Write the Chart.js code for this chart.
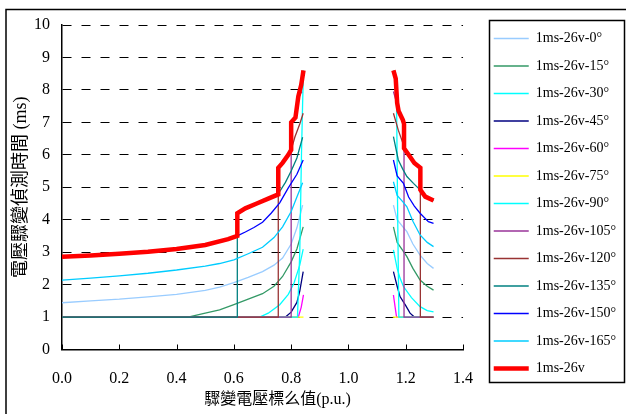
<!DOCTYPE html>
<html><head><meta charset="utf-8">
<script src="https://cdn.jsdelivr.net/npm/chart.js@4/dist/chart.umd.min.js"></script>
<style>html,body{margin:0;padding:0;background:#fff;}canvas{display:block;}</style>
</head><body>
<canvas id="c" width="626" height="414"></canvas>
<script>
// ---- data ----
const seriesLabels = ['1ms-26v-0°','1ms-26v-15°','1ms-26v-30°','1ms-26v-45°','1ms-26v-60°','1ms-26v-75°',
  '1ms-26v-90°','1ms-26v-105°','1ms-26v-120°','1ms-26v-135°','1ms-26v-150°','1ms-26v-165°','1ms-26v'];
const xTickLabels = ['0.0','0.2','0.4','0.6','0.8','1.0','1.2','1.4'];
const yTickLabels = ['0','1','2','3','4','5','6','7','8','9','10'];

// [voltage p.u., time ms] - left branch (sag) and right branch (swell)
const a0L = [[0,1.44],[0.1,1.5],[0.2,1.55],[0.3,1.62],[0.4,1.7],[0.5,1.82],[0.55,1.92],[0.6,2.06],[0.65,2.22],[0.7,2.4],[0.74,2.6],[0.77,2.82],[0.8,3.25],[0.82,3.75],[0.84,4.45]];
const a0R = [[1.157,4.45],[1.17,4.0],[1.19,3.78],[1.204,3.63],[1.225,3.25],[1.25,2.91],[1.275,2.65],[1.297,2.5]];
const a15L = [[0,1],[0.44,1],[0.5,1.12],[0.55,1.22],[0.6,1.38],[0.65,1.55],[0.7,1.72],[0.74,1.95],[0.77,2.25],[0.8,2.7],[0.82,3.1],[0.842,3.78]];
const a15R = [[1.157,3.78],[1.17,3.3],[1.19,3.05],[1.204,2.86],[1.225,2.5],[1.25,2.14],[1.275,1.95],[1.297,1.83]];
const a30L = [[0,1],[0.69,1],[0.72,1.12],[0.76,1.38],[0.79,1.7],[0.81,2.05],[0.83,2.6],[0.842,3.09]];
const a30R = [[1.157,3.07],[1.17,2.5],[1.18,2.2],[1.192,1.94],[1.22,1.6],[1.25,1.32],[1.275,1.2],[1.297,1.16]];
const a45L = [[0,1],[0.78,1],[0.8,1.15],[0.82,1.45],[0.83,1.8],[0.842,2.4]];
const a45R = [[1.157,2.4],[1.17,1.95],[1.18,1.63],[1.2,1.35],[1.215,1.12],[1.23,1],[1.297,1]];
const a60L = [[0,1],[0.825,1],[0.835,1.3],[0.843,1.68]];
const a60R = [[1.157,1.68],[1.163,1.3],[1.168,1],[1.297,1]];
const a75L = [[0,1],[0.843,1]];
const a75R = [[1.155,1],[1.297,1]];
const a90L = [[0,1],[0.822,1],[0.83,3.0],[0.836,6.0],[0.84,7.6],[0.843,8.6]];
const a90R = [[1.157,8.6],[1.165,8.35],[1.168,7.5],[1.172,4.0],[1.176,1],[1.297,1]];
const a105L = [[0,1],[0.8,1],[0.8,7.0],[0.815,7.15],[0.825,7.8],[0.838,7.95]];
const a105R = [[1.157,7.95],[1.17,7.55],[1.18,7.25],[1.194,6.95],[1.194,1],[1.297,1]];
const a120L = [[0,1],[0.755,1],[0.755,5.6],[0.77,5.75],[0.79,6.0],[0.8,6.15],[0.813,6.55],[0.83,6.95],[0.842,7.28]];
const a120R = [[1.157,7.28],[1.174,6.76],[1.186,6.46],[1.196,6.2],[1.215,5.94],[1.23,5.75],[1.251,5.6],[1.251,1],[1.297,1]];
const a135L = [[0,1],[0.612,1],[0.612,4.2],[0.64,4.35],[0.68,4.5],[0.72,4.65],[0.755,4.8],[0.78,5.15],[0.8,5.5],[0.82,5.9],[0.84,6.54]];
const a135R = [[1.157,6.56],[1.174,5.84],[1.19,5.55],[1.204,5.33],[1.227,5.12],[1.25,4.92],[1.268,4.71],[1.297,4.59]];
const a150L = [[0,2.86],[0.1,2.9],[0.2,2.95],[0.3,3.01],[0.4,3.1],[0.5,3.22],[0.58,3.4],[0.612,3.5],[0.64,3.62],[0.67,3.76],[0.7,3.92],[0.73,4.2],[0.76,4.52],[0.79,4.98],[0.82,5.4],[0.842,5.84]];
const a150R = [[1.157,5.84],[1.17,5.35],[1.192,5.12],[1.21,4.7],[1.23,4.42],[1.25,4.2],[1.279,3.94],[1.297,3.89]];
const a165L = [[0,2.14],[0.1,2.2],[0.2,2.27],[0.3,2.35],[0.4,2.45],[0.5,2.57],[0.55,2.65],[0.6,2.76],[0.65,2.95],[0.7,3.15],[0.74,3.45],[0.77,3.78],[0.8,4.25],[0.82,4.7],[0.84,5.14]];
const a165R = [[1.157,5.17],[1.17,4.75],[1.19,4.55],[1.204,4.4],[1.225,3.95],[1.25,3.53],[1.275,3.3],[1.297,3.17]];
const maxL = [[0,2.86],[0.1,2.9],[0.2,2.95],[0.3,3.01],[0.4,3.1],[0.5,3.22],[0.58,3.4],[0.612,3.5],[0.612,4.2],[0.64,4.35],[0.68,4.5],[0.72,4.65],[0.755,4.78],[0.755,5.6],[0.77,5.75],[0.79,6.0],[0.8,6.15],[0.8,7.0],[0.815,7.15],[0.825,7.8],[0.835,8.15],[0.843,8.6]];
const maxR = [[1.157,8.6],[1.165,8.35],[1.17,7.6],[1.175,7.35],[1.19,7.07],[1.194,6.95],[1.194,6.2],[1.215,5.94],[1.23,5.75],[1.251,5.6],[1.251,4.92],[1.268,4.71],[1.297,4.59]];

const leftBranches  = [a0L,a15L,a30L,a45L,a60L,a75L,a90L,a105L,a120L,a135L,a150L,a165L,maxL];
const rightBranches = [a0R,a15R,a30R,a45R,a60R,a75R,a90R,a105R,a120R,a135R,a150R,a165R,maxR];

// ---- styles ----
const seriesColors = ['#99CCFF','#339966','#00FFFF','#000080','#FF00FF','#FFFF00','#00FFFF','#993399','#993333','#008080','#0000FF','#00CCFF','#FF0000'];
const seriesWidths = [1.3,1.3,1.3,1.3,1.3,1.3,1.3,1.3,1.3,1.3,1.3,1.3,4.5];

const serif = "'Liberation Serif','Times New Roman','Noto Sans CJK TC',serif";

function toPoints(L, R) {
  const pts = L.map(p => ({x: p[0], y: p[1]}));
  pts.push({x: 1.0, y: null});
  return pts.concat(R.map(p => ({x: p[0], y: p[1]})));
}

const datasets = seriesLabels.map((lab, i) => ({
  label: lab,
  data: toPoints(leftBranches[i], rightBranches[i]),
  borderColor: seriesColors[i],
  backgroundColor: seriesColors[i],
  borderWidth: seriesWidths[i],
  pointBorderWidth: seriesWidths[i],
  pointRadius: 0,
  pointHoverRadius: 0,
  tension: 0,
  fill: false,
  spanGaps: false,
  order: -i
}));

const frame = {
  id: 'frame',
  beforeDraw(chart) {
    // the x-axis title sits a little right of the plot centre in the reference
    const s = chart.scales.x;
    if (s && !s._titleShifted) {
      const orig = s.drawTitle.bind(s);
      s.drawTitle = function () {
        const ctx = chart.ctx;
        ctx.save(); ctx.translate(15, 0); orig(); ctx.restore();
      };
      s._titleShifted = true;
    }
  },
  afterDraw(chart) {
    const ctx = chart.ctx;
    ctx.save();
    ctx.strokeStyle = '#000';
    ctx.lineWidth = 1.5;
    ctx.beginPath();
    ctx.moveTo(6, 414); ctx.lineTo(6, 9.5); ctx.lineTo(626, 9.5);
    ctx.stroke();
    // legend box
    const lg = chart.legend;
    if (lg && lg.legendHitBoxes && lg.legendHitBoxes.length) {
      const hb = lg.legendHitBoxes;
      const first = hb[0], last = hb[hb.length - 1];
      const l = Math.round(first.left - 5) + 0.5;
      const t = Math.round(first.top - 11.5) + 0.5;
      const b = Math.round(last.top + last.height + 6.5) + 0.5;
      const r = chart.width - 1.5;
      ctx.lineWidth = 1.5;
      ctx.strokeRect(l, t, r - l, b - t);
    }
    // inside tick marks on x axis
    const s = chart.scales.x;
    ctx.lineWidth = 1;
    s.ticks.forEach(tk => {
      const px = Math.round(s.getPixelForValue(tk.value)) + 0.5;
      ctx.beginPath(); ctx.moveTo(px, s.top); ctx.lineTo(px, s.top - 5); ctx.stroke();
    });
    ctx.restore();
  }
};

new Chart(document.getElementById('c'), {
  type: 'line',
  data: { datasets },
  options: {
    responsive: false,
    animation: false,
    devicePixelRatio: 1,
    layout: { padding: { top: 18, left: 6, bottom: 2, right: 0 } },
    plugins: {
      tooltip: { enabled: false },
      legend: {
        position: 'right',
        align: 'start',
        maxWidth: 220,
        labels: {
          usePointStyle: true,
          pointStyle: 'line',
          pointStyleWidth: 35,
          padding: 13.5,
          color: '#000',
          font: { family: serif, size: 14 },
          sort: (a, b) => a.datasetIndex - b.datasetIndex
        }
      }
    },
    scales: {
      x: {
        type: 'linear', position: 'bottom', min: 0, max: 1.4,
        afterFit: s => { s.height = 62.5; },
        grid: { display: false, drawTicks: false },
        border: { display: true, color: '#000', width: 1.5 },
        ticks: {
          stepSize: 0.2, padding: 20, color: '#000', maxRotation: 0, autoSkip: false,
          font: { family: serif, size: 16 },
          callback: v => xTickLabels[Math.round(v / 0.2)]
        },
        title: { display: true, text: '驟變電壓標么值(p.u.)', color: '#000',
          font: { family: serif, size: 16 }, padding: { top: 0, bottom: 2.4 } }
      },
      x2: {
        type: 'linear', position: 'top', display: true,
        afterFit: s => { s.height = 7; },
        grid: { display: false, drawTicks: false }, border: { display: false }, ticks: { display: false }
      },
      y: {
        type: 'linear', position: 'left', min: 0, max: 10,
        afterFit: s => { s.width = 56; },
        grid: { display: true, drawTicks: false, lineWidth: 1,
          color: c => (c.tick && c.tick.value === 0) ? 'rgba(0,0,0,0)' : '#000' },
        border: { display: true, color: '#000', width: 1.5, dash: [9, 10] },
        ticks: { stepSize: 1, padding: 12, color: '#000', font: { family: serif, size: 16 },
          callback: v => yTickLabels[Math.round(v)] },
        title: { display: true, text: '電壓驟變偵測時間 (ms)', color: '#000',
          font: { family: serif, size: 18 }, padding: { top: 4.2, bottom: 0 } }
      },
      y2: {
        type: 'linear', position: 'right', display: true,
        afterFit: s => { s.width = 17.2; },
        grid: { display: false, drawTicks: false }, border: { display: false }, ticks: { display: false }
      }
    }
  },
  plugins: [frame]
});
</script>
</body></html>
